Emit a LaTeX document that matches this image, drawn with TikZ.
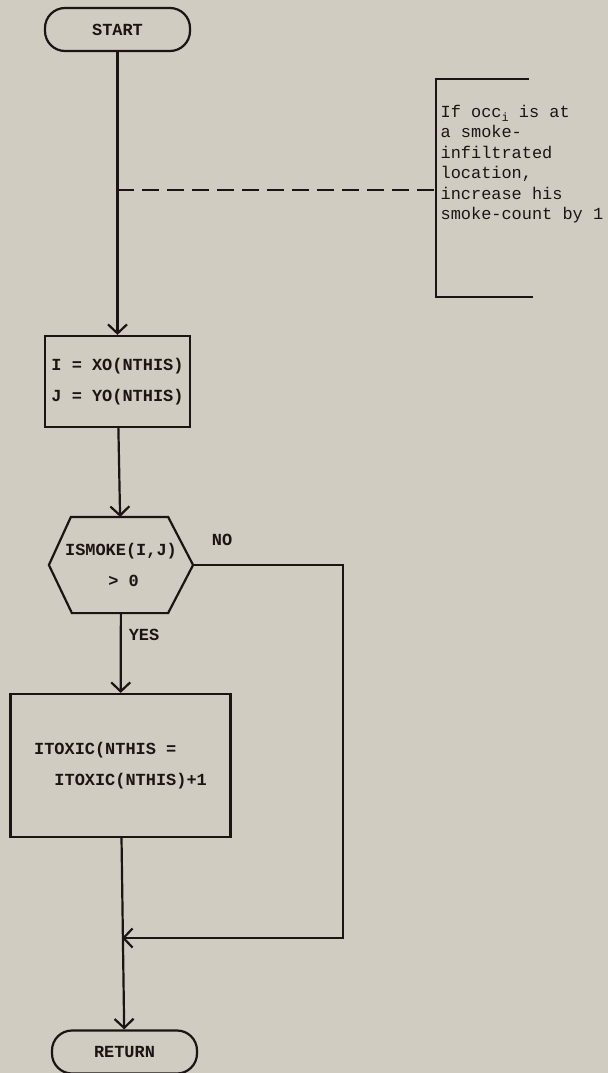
\documentclass[tikz,border=0pt]{standalone}
\usepackage{fontspec}
\newfontfamily\flowfont{Liberation Mono}
\usetikzlibrary{arrows.meta}
\definecolor{paper}{RGB}{208,204,193}
\definecolor{ink}{RGB}{28,20,20}
\tikzset{
  flowtext/.style={font=\flowfont\bfseries\fontsize{17}{31}\selectfont, text=ink},
  term/.style={flowtext, draw=ink, line width=2.2bp, rounded corners=20bp,
    minimum width=145bp, minimum height=43bp, inner sep=0pt},
  proc/.style={flowtext, draw=ink, line width=2.2bp, inner sep=0pt},
  notetext/.style={font=\flowfont\fontsize{17}{20.6}\selectfont, text=ink,
    align=left, inner sep=0pt, anchor=north west},
}

\begin{document}
\begin{tikzpicture}[x=1bp, y=-1bp, line width=2.2bp, draw=ink,
    >={Straight Barb[length=9bp, width=19bp]}]
  \useasboundingbox (0,0) rectangle (608,1073);
  \fill[paper] (0,0) rectangle (608,1073);

  \node[term] (start) at (117.5,29.5) {START};
  \node[proc, minimum width=145bp, minimum height=91bp, align=center] (setij) at (117.5,381.5)
    {I = XO(NTHIS)\\J = YO(NTHIS)};
  \node[flowtext, minimum width=142bp, minimum height=94bp, inner sep=0pt, align=center] (test) at (121,565)
    {ISMOKE(I,J)\\\hspace*{0.3em}> 0};
  \draw (test.west) -- ([xshift=22bp]test.north west) -- ([xshift=-25bp]test.north east)
    -- (test.east) -- ([xshift=-25bp]test.south east) -- ([xshift=23bp]test.south west) -- cycle;
  \node[proc, minimum width=220bp, minimum height=143bp, align=left] (count) at (120.5,765.5)
    {ITOXIC(NTHIS =\\\hspace*{1.2em}ITOXIC(NTHIS)+1};
  \node[term] (return) at (124.5,1052) {RETURN};

  \node[flowtext] (no) at (222,540) {NO};
  \node[flowtext] (yes) at (144,635) {YES};

  \coordinate (tap) at (117.3,190);
  \coordinate (bar) at (436,190);
  \coordinate (noright) at (343,938);
  \coordinate (join) at (122,938);

  \draw[->] (start) -- (setij);
  \draw[->] (setij) -- (test);
  \draw[->] (test) -- (count);
  \draw[->] (test.east) -| (noright) -- (join);
  \draw[->] (count) -- (return);

  \draw[dash pattern=on 17bp off 8bp] (tap) -- (bar);
  \draw (529,79) -- (436,79) -- (436,297) -- (533,297);
  \node[notetext] (note) at (439.5,104)
    {If occ\raisebox{-4.5bp}{\fontsize{12}{12}\selectfont i} is at\\a smoke-\\infiltrated\\location,\\increase his\\smoke-count by 1};
\end{tikzpicture}
\end{document}
